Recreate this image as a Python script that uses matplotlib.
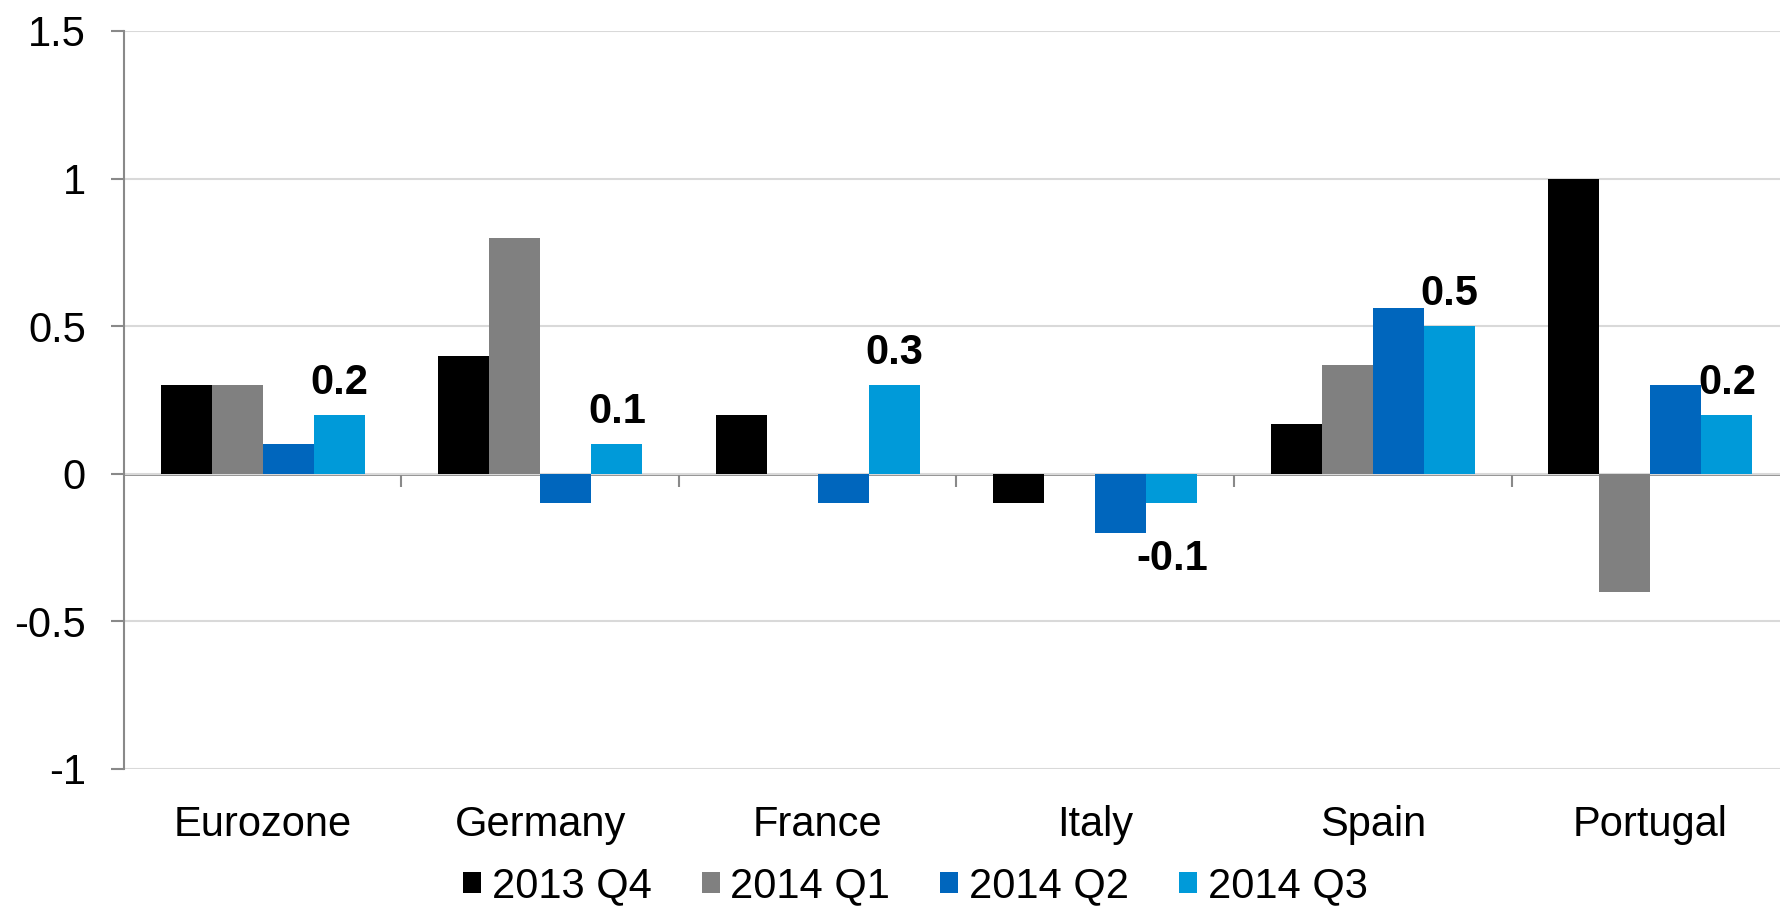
import matplotlib.pyplot as plt
import numpy as np

plt.rcParams['font.family'] = ['Liberation Sans', 'DejaVu Sans']

categories = ['Eurozone', 'Germany', 'France', 'Italy', 'Spain', 'Portugal']
series = ['2013 Q4', '2014 Q1', '2014 Q2', '2014 Q3']
q4_2013 = [0.3, 0.4, 0.2, -0.1, 0.17, 1.0]
q1_2014 = [0.3, 0.8, 0.0, 0.0, 0.37, -0.4]
q2_2014 = [0.1, -0.1, -0.1, -0.2, 0.56, 0.3]
q3_2014 = [0.2, 0.1, 0.3, -0.1, 0.5, 0.2]
yticks = [-1, -0.5, 0, 0.5, 1, 1.5]
ytick_labels = ['-1', '-0.5', '0', '0.5', '1', '1.5']

colors = ['#000000', '#808080', '#0066bd', '#009ad9']
axis_grey = '#898989'

fig = plt.figure(figsize=(17.81, 9.10), dpi=100)
ax = fig.add_axes([0.0696, 0.155, 0.9349, 0.811])

x = np.arange(len(categories))
w = 0.184
data = [q4_2013, q1_2014, q2_2014, q3_2014]
for i, (vals, name, c) in enumerate(zip(data, series, colors)):
    ax.bar(x + (i - 1.5) * w, vals, w, color=c, label=name, edgecolor='none', zorder=2)

# labels on the last series only
for xi, v in zip(x + 1.5 * w, q3_2014):
    txt = '%.1f' % v
    if v >= 0:
        ax.annotate(txt, (xi, v), xytext=(0, 15), textcoords='offset points',
                    ha='center', va='baseline', fontsize=30, fontweight='bold')
    else:
        ax.annotate(txt, (xi, v), xytext=(0, -26), textcoords='offset points',
                    ha='center', va='top', fontsize=30, fontweight='bold')

ax.set_xlim(-0.5, len(categories) - 0.5)
ax.set_ylim(-1, 1.5)
ax.set_yticks(yticks, ytick_labels)
ax.set_xticks(x, categories)
ax.tick_params(axis='x', length=0, pad=26, labelsize=30)
ax.tick_params(axis='y', direction='out', length=9.4, width=1.5, color=axis_grey,
               pad=18, labelsize=30)
ax.grid(axis='y', color='#d9d9d9', linewidth=1.5, zorder=0)
ax.set_axisbelow(True)
for s in ['top', 'right', 'bottom']:
    ax.spines[s].set_visible(False)
ax.spines['left'].set_color(axis_grey)
ax.spines['left'].set_linewidth(1.5)

# horizontal axis line crossing at zero, with category separators
zero = ax.secondary_xaxis(1.0 / 2.5)
zero.set_xticks(x[:-1] + 0.5, [''] * (len(categories) - 1))
zero.tick_params(direction='out', length=9, width=1.5, color=axis_grey)
zero.spines['bottom'].set_color(axis_grey)
zero.spines['bottom'].set_linewidth(2)

fig.legend(loc='center', bbox_to_anchor=(0.514, 0.026), ncol=4, frameon=False,
           fontsize=30, handlelength=0.43, handleheight=0.43, handletextpad=0.26,
           columnspacing=1.2, borderaxespad=0, borderpad=0)

plt.savefig('out.png', dpi=100)
